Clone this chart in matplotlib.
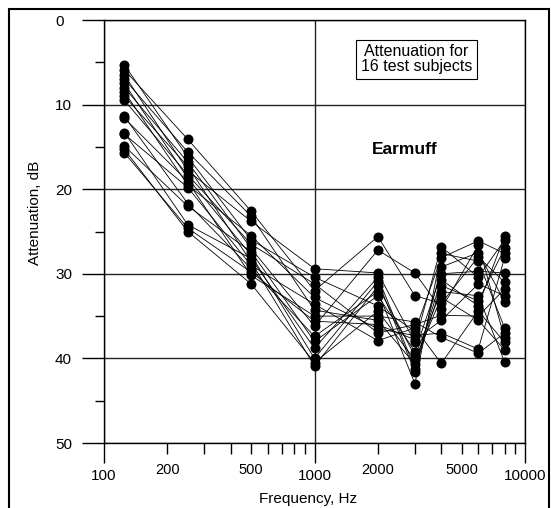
import matplotlib
matplotlib.use("Agg")
import numpy as np
import matplotlib.pyplot as plt
from matplotlib.patches import Rectangle

plt.rcParams['font.family'] = ['Liberation Sans', 'DejaVu Sans']

# test frequencies, Hz
freqs = [125, 250, 500, 1000, 2000, 3000, 4000, 6000, 8000]

# attenuation (dB) of each of the 16 subjects, one list per frequency
att_125 = [5.3, 5.9, 6.5, 7.0, 7.5, 8.0, 8.5, 9.0, 9.5, 11.4, 11.6, 13.3, 13.5, 14.9, 15.3, 15.7]
att_250 = [16.2, 14.1, 17.8, 15.6, 18.7, 16.8, 19.5, 17.3, 18.3, 21.7, 19.1, 24.2, 19.8, 22.0, 25.0, 24.6]
att_500 = [26.0, 22.6, 23.8, 23.2, 27.8, 27.0, 25.5, 28.6, 26.5, 29.4, 30.2, 28.2, 29.0, 27.4, 31.2, 29.8]
att_1000 = [30.4, 32.0, 29.4, 34.3, 40.0, 36.2, 32.8, 40.9, 31.2, 37.4, 35.0, 38.8, 33.6, 38.0, 40.5, 35.6]
att_2000 = [33.8, 25.6, 29.9, 35.5, 30.9, 27.2, 36.5, 31.5, 37.0, 32.1, 35.0, 30.4, 37.9, 32.6, 34.4, 36.0]
att_3000 = [36.8, 32.6, 38.1, 40.7, 41.6, 29.9, 37.3, 39.7, 36.0, 43.0, 35.7, 41.2, 36.4, 39.2, 40.2, 37.8]
att_4000 = [28.1, 33.5, 26.8, 30.7, 29.2, 34.2, 37.0, 32.1, 34.9, 27.6, 37.5, 31.4, 40.6, 30.0, 32.8, 35.5]
att_6000 = [26.1, 28.0, 30.4, 33.8, 27.5, 26.6, 38.9, 32.6, 35.0, 28.5, 39.4, 33.2, 34.4, 29.7, 35.5, 31.2]
att_8000 = [27.6, 31.0, 26.0, 25.5, 33.3, 37.6, 28.1, 40.4, 31.8, 36.4, 37.0, 27.0, 38.1, 29.9, 39.0, 32.6]

minor_x = [200, 300, 400, 500, 600, 700, 800, 900,
           2000, 3000, 4000, 5000, 6000, 7000, 8000, 9000]
minor_x_labels = ['200', '', '', '500', '', '', '', '',
                  '2000', '', '', '5000', '', '', '', '']

data = np.array([att_125, att_250, att_500, att_1000, att_2000,
                 att_3000, att_4000, att_6000, att_8000])

fig = plt.figure(figsize=(5.51, 5.08), dpi=100)
ax = fig.add_axes([104/551, 1 - 443/508, 421/551, 423/508])

for i in range(data.shape[1]):
    ax.plot(freqs, data[:, i], color='black', lw=0.6, marker='o',
            markersize=7.2, markerfacecolor='black', markeredgewidth=0)

ax.set_xscale('log')
ax.set_xlim(100, 10000)
ax.set_ylim(50, 0)

ax.set_xticks([100, 1000, 10000], labels=['100', '1000', '10000'])
ax.set_xticks(minor_x, labels=minor_x_labels, minor=True)
ax.set_yticks([0, 10, 20, 30, 40, 50])
ax.set_yticks([5, 15, 25, 35, 45], minor=True)

ax.tick_params(axis='x', which='major', direction='out', length=14.4, width=1,
               pad=4, labelsize=11)
ax.tick_params(axis='x', which='minor', direction='out', length=7.9, width=1,
               pad=6.5, labelsize=10.5)
ax.tick_params(axis='y', which='major', direction='out', length=15.8, width=1,
               pad=19.5, labelsize=11)
ax.tick_params(axis='y', which='minor', direction='out', length=6.5, width=1)
for lbl in ax.get_yticklabels():
    lbl.set_horizontalalignment('left')

ax.grid(True, which='major', color='#222222', lw=1)
ax.set_axisbelow(True)
for s in ax.spines.values():
    s.set_color('black')
    s.set_linewidth(1)

ax.text(0.742, 0.907, 'Attenuation for\n16 test subjects', transform=ax.transAxes,
        ha='center', va='center', fontsize=11.5, linespacing=1.0,
        bbox=dict(boxstyle='square,pad=0.3', fc='white', ec='black', lw=0.8))
ax.text(0.715, 0.695, 'Earmuff', transform=ax.transAxes, ha='center', va='center',
        fontsize=12.5, fontweight='bold')

fig.text(35/551, 1 - 213/508, 'Attenuation, dB', rotation=90, ha='center',
         va='center', fontsize=11)
fig.text(308/551, 1 - 499/508, 'Frequency, Hz', ha='center', va='center',
         fontsize=11)

# outer frame around the whole picture
fig.patches.append(Rectangle((8.5/551, -0.1), (549 - 8.5)/551, 1.1 - 9.5/508,
                             transform=fig.transFigure, fill=False,
                             ec='black', lw=1.5))

fig.savefig('out.png', dpi=100)
